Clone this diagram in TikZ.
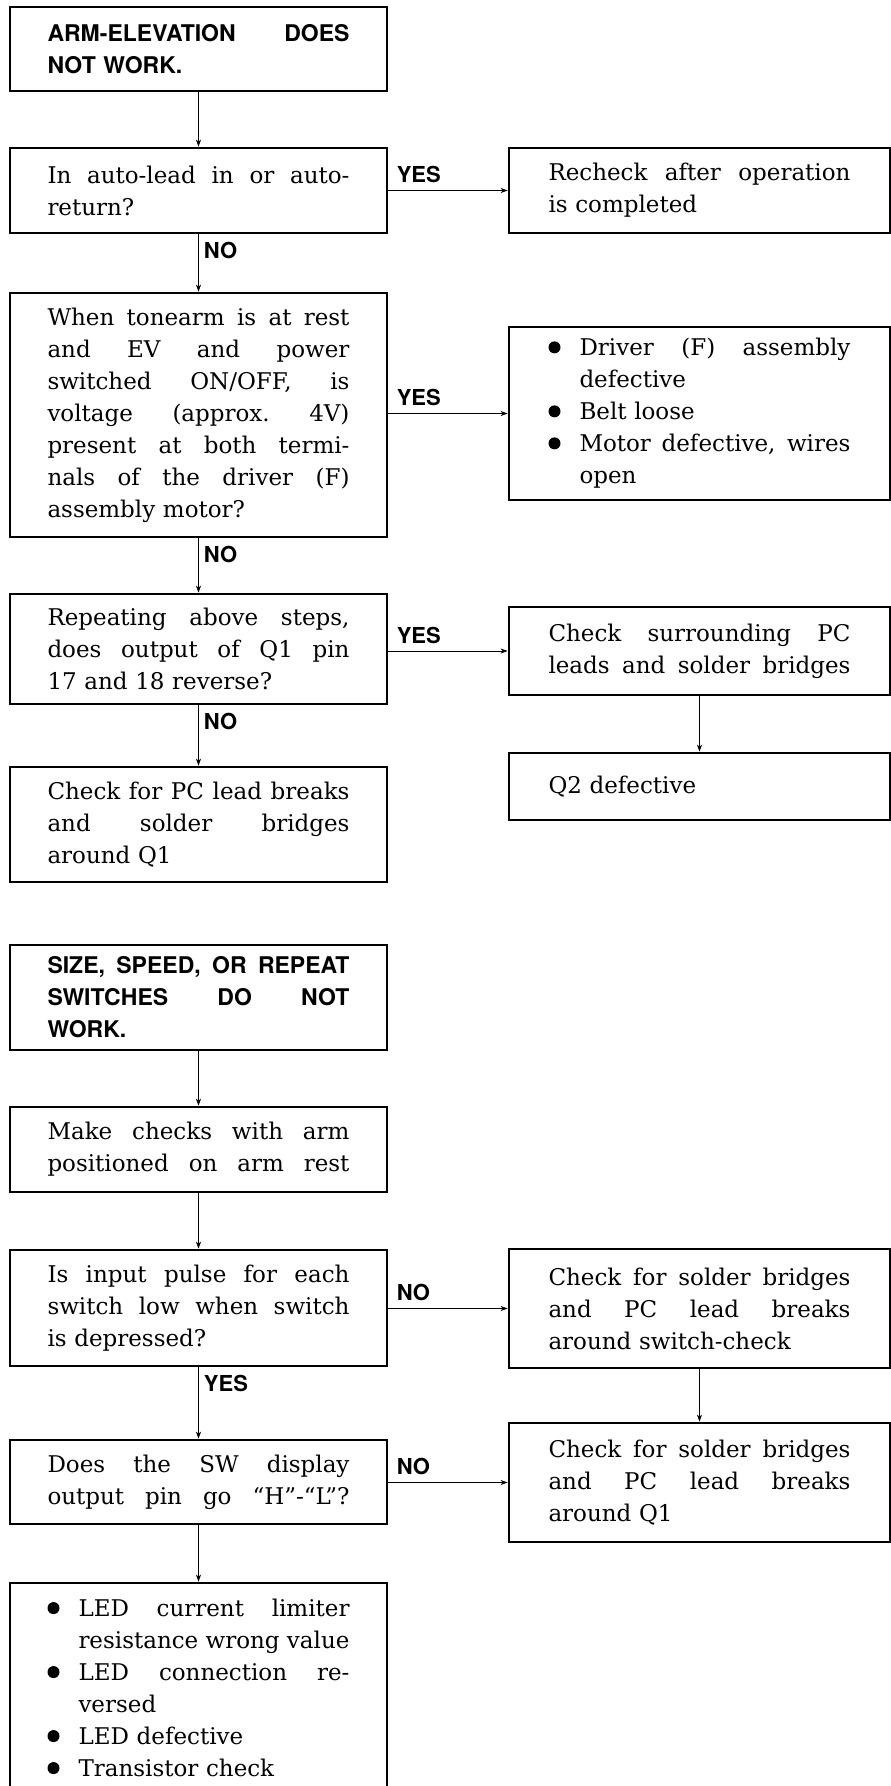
\documentclass[tikz,border=0pt]{standalone}
\usepackage{fontspec}
\setmainfont{DejaVu Serif}
\newfontfamily\heros{TeX Gyre Heros}
\usetikzlibrary{arrows.meta,calc}
\newcommand\J[2][302pt]{\makebox[#1][s]{\spaceskip=.318em plus 1fil minus .12em\xspaceskip=\spaceskip #2}}
\newcommand\bulx{\makebox[31pt][l]{\tikz[baseline=0pt]\fill (6pt,8.5pt) circle[radius=6pt];}}
\tikzset{
 box/.style={draw, line width=2.7pt, inner xsep=0pt, inner ysep=0pt, text width=302pt, align=left, font=\fontsize{23}{32}\selectfont},
 lbox/.style={box, minimum width=377pt},
 rbox/.style={box, minimum width=381pt},
 head/.style={font=\heros\bfseries\fontsize{23}{32}\selectfont},
 conn/.style={line width=0.8pt, -{Stealth[length=7pt,width=5pt,inset=2pt]}},
 lbl/.style={font=\heros\bfseries\fontsize{22}{22}\selectfont, inner sep=0pt},
}
\begin{document}
\begin{tikzpicture}[x=1pt,y=-1pt]
\fill[white] (0,0) rectangle (891,1786);
\useasboundingbox (0,0) rectangle (891,1786);

% ---- first chart ----
\node[lbox, head, minimum height=84pt] (b1) at (198.5,49)
 {\J{ARM-ELEVATION DOES}\\NOT WORK.};
\node[lbox, minimum height=85pt] (b2) at (198.5,190.5)
 {\J{In auto-lead in or auto-}\\return?};
\node[rbox, minimum height=85pt] (r1) at (699.5,190.5)
 {\J{Recheck after operation}\\is completed};
\node[lbox, minimum height=244pt] (b3) at (198.5,415)
 {\J{When tonearm is at rest}\\
  \J{and EV and power}\\
  \J{switched ON/OFF, is}\\
  \J{voltage (approx. 4V)}\\
  \J{present at both termi-}\\
  \J{nals of the driver (F)}\\
  assembly motor?};
\node[rbox, minimum height=173pt] (r2) at (699.5,413.5)
 {\bulx\J[271pt]{Driver (F) assembly}\\
  \hspace*{31pt}defective\\
  \bulx Belt loose\\
  \bulx\J[271pt]{Motor defective, wires}\\
  \hspace*{31pt}open};
\node[lbox, minimum height=110pt] (b4) at (198.5,649)
 {\J{Repeating above steps,}\\
  \J{does output of Q1 pin}\\
  17 and 18 reverse?};
\node[rbox, minimum height=88pt] (r3) at (699.5,651)
 {\J{Check surrounding PC}\\
  \J{leads and solder bridges}};
\node[rbox, minimum height=67pt] (r4) at (699.5,786.5)
 {Q2 defective};
\node[lbox, minimum height=115pt] (b5) at (198.5,824.5)
 {\J{Check for PC lead breaks}\\
  \J{and solder bridges}\\
  around Q1};

\draw[conn] (b1.south) -- (b2.north);
\draw[conn] (b2.east |- r1.west) -- node[lbl, pos=0, anchor=south west, xshift=8pt, yshift=7pt] (y1) {YES} (r1.west);
\draw[conn] (b2.south) -- node[lbl, pos=0, anchor=north west, xshift=5pt, yshift=-7pt] (n1) {NO} (b3.north);
\draw[conn] (b3.east |- r2.west) -- node[lbl, pos=0, anchor=south west, xshift=8pt, yshift=7pt] (y2) {YES} (r2.west);
\draw[conn] (b3.south) -- node[lbl, pos=0, anchor=north west, xshift=5pt, yshift=-7pt] (n2) {NO} (b4.north);
\draw[conn] (b4.east |- r3.west) -- node[lbl, pos=0, anchor=south west, xshift=8pt, yshift=7pt] (y3) {YES} (r3.west);
\draw[conn] (b4.south) -- node[lbl, pos=0, anchor=north west, xshift=5pt, yshift=-7pt] (n3) {NO} (b5.north);
\draw[conn] (r3.south) -- (r4.north);

% ---- second chart ----
\node[lbox, head, minimum height=105pt] (c1) at (198.5,997.5)
 {\J{SIZE, SPEED, OR REPEAT}\\
  \J{SWITCHES DO NOT}\\
  WORK.};
\node[lbox, minimum height=85pt] (c2) at (198.5,1149.5)
 {\J{Make checks with arm}\\
  \J{positioned on arm rest}};
\node[lbox, minimum height=116pt] (c3) at (198.5,1308)
 {\J{Is input pulse for each}\\
  \J{switch low when switch}\\
  is depressed?};
\node[rbox, minimum height=119pt] (s1) at (699.5,1308.5)
 {\J{Check for solder bridges}\\
  \J{and PC lead breaks}\\
  around switch-check};
\node[lbox, minimum height=84pt] (c4) at (198.5,1482)
 {\J{Does the SW display}\\
  \J{output pin go “H”-“L”?}};
\node[rbox, minimum height=119pt] (s2) at (699.5,1482.5)
 {\J{Check for solder bridges}\\
  \J{and PC lead breaks}\\
  around Q1};
\node[lbox, minimum height=210pt] (c5) at (198.5,1688)
 {\bulx\J[271pt]{LED current limiter}\\
  \hspace*{31pt}\J[271pt]{resistance wrong value}\\
  \bulx\J[271pt]{LED connection re-}\\
  \hspace*{31pt}versed\\
  \bulx LED defective\\
  \bulx Transistor check};

\draw[conn] (c1.south) -- (c2.north);
\draw[conn] (c2.south) -- (c3.north);
\draw[conn] (c3.east |- s1.west) -- node[lbl, pos=0, anchor=south west, xshift=8pt, yshift=7pt] (n4) {NO} (s1.west);
\draw[conn] (c3.south) -- node[lbl, pos=0, anchor=north west, xshift=5pt, yshift=-7pt] (y4) {YES} (c4.north);
\draw[conn] (s1.south) -- (s2.north);
\draw[conn] (c4.east |- s2.west) -- node[lbl, pos=0, anchor=south west, xshift=8pt, yshift=7pt] (n5) {NO} (s2.west);
\draw[conn] (c4.south) -- (c5.north);
\end{tikzpicture}
\end{document}
